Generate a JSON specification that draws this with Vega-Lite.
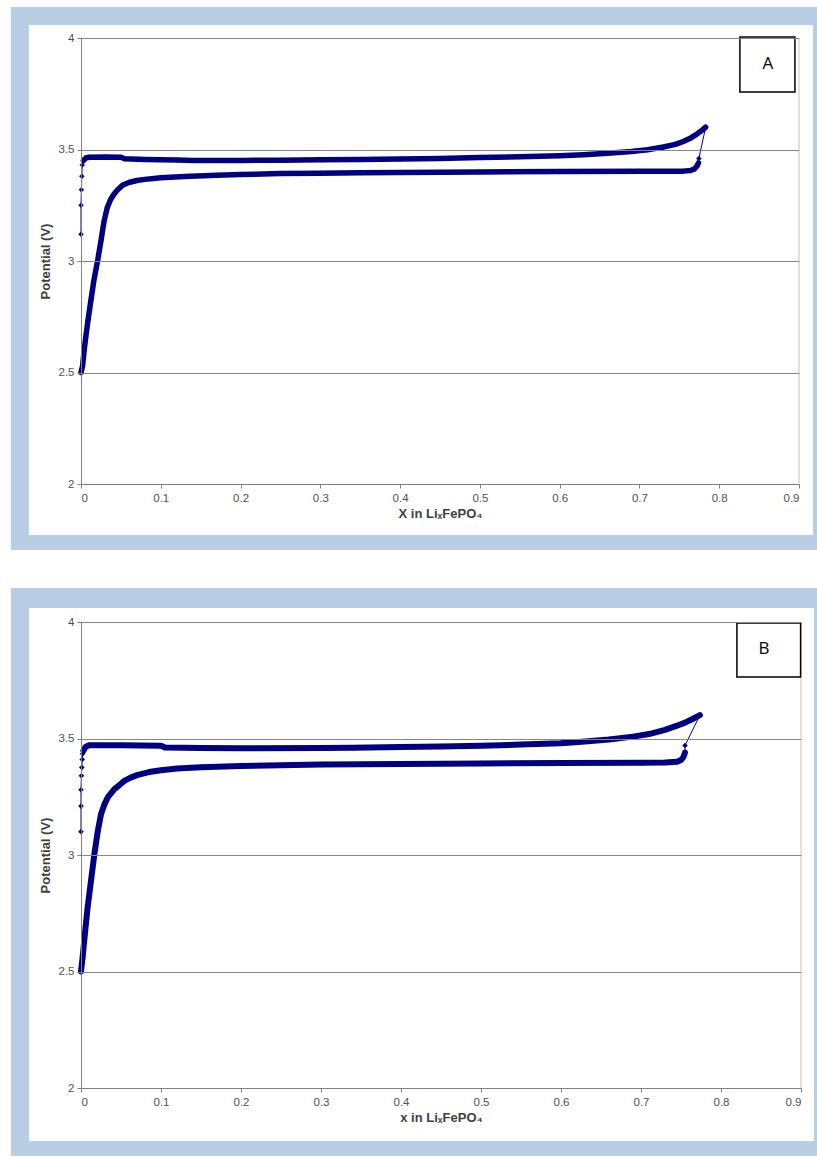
{
  "$schema": "https://vega.github.io/schema/vega-lite/v6.json",
  "background": "white",
  "padding": {"left": 10, "top": 7, "right": 0, "bottom": 2},
  "spacing": 37,
  "config": {
    "view": {"stroke": null},
    "font": "Liberation Sans",
    "axis": {
      "labelFont": "Liberation Sans",
      "labelFontSize": 11.5,
      "labelColor": "#505050",
      "titleFont": "Liberation Sans",
      "titleFontSize": 13,
      "titleFontWeight": "bold",
      "titleColor": "#404040",
      "domainColor": "#808080",
      "tickColor": "#808080",
      "tickSize": 4,
      "gridColor": "#868686",
      "gridWidth": 1
    },
    "axisX": {"grid": false, "labelPadding": 4, "titlePadding": 4},
    "axisY": {"grid": true, "labelPadding": 3, "titlePadding": 6}
  },
  "datasets": {
    "curves": [
      {"p":"A","k":"c","x":0,"v":3.12},
      {"p":"A","k":"c","x":0,"v":3.25},
      {"p":"A","k":"c","x":0.0005,"v":3.32},
      {"p":"A","k":"c","x":0.001,"v":3.38},
      {"p":"A","k":"c","x":0.0015,"v":3.43},
      {"p":"A","k":"c","x":0.003,"v":3.45},
      {"p":"A","k":"c","x":0.006,"v":3.462},
      {"p":"A","k":"c","x":0.01,"v":3.465},
      {"p":"A","k":"c","x":0.03,"v":3.466},
      {"p":"A","k":"c","x":0.05,"v":3.465},
      {"p":"A","k":"c","x":0.055,"v":3.458},
      {"p":"A","k":"c","x":0.08,"v":3.455},
      {"p":"A","k":"c","x":0.12,"v":3.453},
      {"p":"A","k":"c","x":0.14,"v":3.451},
      {"p":"A","k":"c","x":0.2,"v":3.451},
      {"p":"A","k":"c","x":0.25,"v":3.452},
      {"p":"A","k":"c","x":0.3,"v":3.454},
      {"p":"A","k":"c","x":0.35,"v":3.455},
      {"p":"A","k":"c","x":0.4,"v":3.457},
      {"p":"A","k":"c","x":0.45,"v":3.46},
      {"p":"A","k":"c","x":0.5,"v":3.464},
      {"p":"A","k":"c","x":0.55,"v":3.467},
      {"p":"A","k":"c","x":0.6,"v":3.472},
      {"p":"A","k":"c","x":0.63,"v":3.477},
      {"p":"A","k":"c","x":0.66,"v":3.483},
      {"p":"A","k":"c","x":0.69,"v":3.491},
      {"p":"A","k":"c","x":0.71,"v":3.499},
      {"p":"A","k":"c","x":0.73,"v":3.511},
      {"p":"A","k":"c","x":0.745,"v":3.523},
      {"p":"A","k":"c","x":0.755,"v":3.536},
      {"p":"A","k":"c","x":0.765,"v":3.553},
      {"p":"A","k":"c","x":0.772,"v":3.569},
      {"p":"A","k":"c","x":0.778,"v":3.585},
      {"p":"A","k":"c","x":0.783,"v":3.6},
      {"p":"A","k":"d","x":0.7745,"v":3.46},
      {"p":"A","k":"d","x":0.774,"v":3.44},
      {"p":"A","k":"d","x":0.772,"v":3.425},
      {"p":"A","k":"d","x":0.769,"v":3.413},
      {"p":"A","k":"d","x":0.764,"v":3.406},
      {"p":"A","k":"d","x":0.755,"v":3.403},
      {"p":"A","k":"d","x":0.7,"v":3.402},
      {"p":"A","k":"d","x":0.6,"v":3.401},
      {"p":"A","k":"d","x":0.5,"v":3.399},
      {"p":"A","k":"d","x":0.45,"v":3.398},
      {"p":"A","k":"d","x":0.4,"v":3.397},
      {"p":"A","k":"d","x":0.35,"v":3.396},
      {"p":"A","k":"d","x":0.3,"v":3.394},
      {"p":"A","k":"d","x":0.25,"v":3.392},
      {"p":"A","k":"d","x":0.2,"v":3.388},
      {"p":"A","k":"d","x":0.17,"v":3.385},
      {"p":"A","k":"d","x":0.13,"v":3.379},
      {"p":"A","k":"d","x":0.1,"v":3.373},
      {"p":"A","k":"d","x":0.08,"v":3.366},
      {"p":"A","k":"d","x":0.07,"v":3.361},
      {"p":"A","k":"d","x":0.06,"v":3.352},
      {"p":"A","k":"d","x":0.052,"v":3.34},
      {"p":"A","k":"d","x":0.046,"v":3.32},
      {"p":"A","k":"d","x":0.041,"v":3.298},
      {"p":"A","k":"d","x":0.037,"v":3.275},
      {"p":"A","k":"d","x":0.033,"v":3.24},
      {"p":"A","k":"d","x":0.029,"v":3.18},
      {"p":"A","k":"d","x":0.025,"v":3.09},
      {"p":"A","k":"d","x":0.021,"v":3.005},
      {"p":"A","k":"d","x":0.016,"v":2.91},
      {"p":"A","k":"d","x":0.0125,"v":2.825},
      {"p":"A","k":"d","x":0.009,"v":2.74},
      {"p":"A","k":"d","x":0.006,"v":2.66},
      {"p":"A","k":"d","x":0.004,"v":2.6},
      {"p":"A","k":"d","x":0.002,"v":2.53},
      {"p":"A","k":"d","x":0,"v":2.5},
      {"p":"B","k":"c","x":0,"v":3.1},
      {"p":"B","k":"c","x":0,"v":3.21},
      {"p":"B","k":"c","x":0,"v":3.28},
      {"p":"B","k":"c","x":0.0005,"v":3.34},
      {"p":"B","k":"c","x":0.001,"v":3.376},
      {"p":"B","k":"c","x":0.0015,"v":3.41},
      {"p":"B","k":"c","x":0.002,"v":3.435},
      {"p":"B","k":"c","x":0.003,"v":3.448},
      {"p":"B","k":"c","x":0.006,"v":3.465},
      {"p":"B","k":"c","x":0.01,"v":3.471},
      {"p":"B","k":"c","x":0.05,"v":3.471},
      {"p":"B","k":"c","x":0.1,"v":3.469},
      {"p":"B","k":"c","x":0.105,"v":3.461},
      {"p":"B","k":"c","x":0.15,"v":3.459},
      {"p":"B","k":"c","x":0.2,"v":3.458},
      {"p":"B","k":"c","x":0.3,"v":3.459},
      {"p":"B","k":"c","x":0.34,"v":3.46},
      {"p":"B","k":"c","x":0.4,"v":3.463},
      {"p":"B","k":"c","x":0.45,"v":3.466},
      {"p":"B","k":"c","x":0.5,"v":3.469},
      {"p":"B","k":"c","x":0.55,"v":3.474},
      {"p":"B","k":"c","x":0.6,"v":3.48},
      {"p":"B","k":"c","x":0.63,"v":3.487},
      {"p":"B","k":"c","x":0.66,"v":3.496},
      {"p":"B","k":"c","x":0.69,"v":3.508},
      {"p":"B","k":"c","x":0.71,"v":3.519},
      {"p":"B","k":"c","x":0.73,"v":3.537},
      {"p":"B","k":"c","x":0.745,"v":3.555},
      {"p":"B","k":"c","x":0.755,"v":3.568},
      {"p":"B","k":"c","x":0.765,"v":3.585},
      {"p":"B","k":"c","x":0.7736,"v":3.6},
      {"p":"B","k":"d","x":0.755,"v":3.47},
      {"p":"B","k":"d","x":0.755,"v":3.44},
      {"p":"B","k":"d","x":0.753,"v":3.42},
      {"p":"B","k":"d","x":0.75,"v":3.408},
      {"p":"B","k":"d","x":0.745,"v":3.4},
      {"p":"B","k":"d","x":0.73,"v":3.397},
      {"p":"B","k":"d","x":0.7,"v":3.396},
      {"p":"B","k":"d","x":0.6,"v":3.395},
      {"p":"B","k":"d","x":0.5,"v":3.393},
      {"p":"B","k":"d","x":0.4,"v":3.391},
      {"p":"B","k":"d","x":0.3,"v":3.388},
      {"p":"B","k":"d","x":0.25,"v":3.385},
      {"p":"B","k":"d","x":0.2,"v":3.382},
      {"p":"B","k":"d","x":0.15,"v":3.377},
      {"p":"B","k":"d","x":0.12,"v":3.371},
      {"p":"B","k":"d","x":0.1,"v":3.364},
      {"p":"B","k":"d","x":0.085,"v":3.356},
      {"p":"B","k":"d","x":0.071,"v":3.344},
      {"p":"B","k":"d","x":0.062,"v":3.332},
      {"p":"B","k":"d","x":0.054,"v":3.318},
      {"p":"B","k":"d","x":0.048,"v":3.3},
      {"p":"B","k":"d","x":0.0417,"v":3.283},
      {"p":"B","k":"d","x":0.0334,"v":3.247},
      {"p":"B","k":"d","x":0.029,"v":3.215},
      {"p":"B","k":"d","x":0.025,"v":3.175},
      {"p":"B","k":"d","x":0.021,"v":3.103},
      {"p":"B","k":"d","x":0.0167,"v":3.003},
      {"p":"B","k":"d","x":0.0125,"v":2.89},
      {"p":"B","k":"d","x":0.0083,"v":2.775},
      {"p":"B","k":"d","x":0.006,"v":2.7},
      {"p":"B","k":"d","x":0.004,"v":2.63},
      {"p":"B","k":"d","x":0.002,"v":2.56},
      {"p":"B","k":"d","x":0,"v":2.5}
    ]
  },
  "vconcat": [
    {
      "width": 718,
      "height": 446,
      "layer": [
        {
          "data": {"values": [{}]},
          "mark": {"type": "rect", "fill": "#b9cde5", "clip": false},
          "encoding": {
            "x": {"datum": -0.0879, "type": "quantitative", "scale": {"domain": [0, 0.9], "nice": false, "zero": false},
                  "axis": {"title": "X in LiₓFePO₄", "zindex": 1, "values": [0,0.1,0.2,0.3,0.4,0.5,0.6,0.7,0.8,0.9], "format": "~g"}},
            "x2": {"datum": 0.925},
            "y": {"datum": 4.139, "type": "quantitative", "scale": {"domain": [2, 4], "nice": false, "zero": false},
                  "axis": {"title": "Potential (V)", "zindex": 1, "values": [2,2.5,3,3.5,4], "format": "~g"}},
            "y2": {"datum": 1.704}
          }
        },
        {
          "data": {"values": [{}]},
          "mark": {"type": "rect", "fill": "white", "clip": false},
          "encoding": {
            "x": {"datum": -0.0653, "type": "quantitative"},
            "x2": {"datum": 0.9175},
            "y": {"datum": 4.058, "type": "quantitative"},
            "y2": {"datum": 1.771}
          }
        },
        {
          "data": {"values": [{}]},
          "mark": {"type": "rule", "color": "#c4c4c4", "strokeWidth": 1},
          "encoding": {
            "x": {"datum": 0.9, "type": "quantitative"},
            "y": {"datum": 2, "type": "quantitative"},
            "y2": {"datum": 4}
          }
        },
        {
          "data": {"name": "curves"},
          "transform": [{"filter": "datum.p == 'A'"}],
          "mark": {"type": "line", "color": "#000080", "strokeWidth": 1},
          "encoding": {
            "x": {"field": "x", "type": "quantitative"},
            "y": {"field": "v", "type": "quantitative"},
            "order": {"value": null}
          }
        },
        {
          "data": {"name": "curves"},
          "transform": [
            {"filter": "datum.p == 'A'"},
            {"filter": "(datum.k == 'c' && datum.v >= 3.44) || (datum.k == 'd' && datum.v <= 3.45)"}
          ],
          "mark": {"type": "line", "color": "#000080", "strokeWidth": 5.5, "strokeCap": "round", "strokeJoin": "round"},
          "encoding": {
            "x": {"field": "x", "type": "quantitative"},
            "y": {"field": "v", "type": "quantitative"},
            "detail": {"field": "k"},
            "order": {"value": null}
          }
        },
        {
          "data": {"name": "curves"},
          "transform": [{"filter": "datum.p == 'A'"}],
          "mark": {"type": "point", "shape": "diamond", "filled": true, "size": 30, "color": "#000080", "opacity": 1},
          "encoding": {
            "x": {"field": "x", "type": "quantitative"},
            "y": {"field": "v", "type": "quantitative"}
          }
        },
        {
          "data": {"values": [{}]},
          "mark": {"type": "rect", "fill": "white", "stroke": "black", "strokeWidth": 1.5, "clip": false},
          "encoding": {
            "x": {"datum": 0.8259, "type": "quantitative"},
            "x2": {"datum": 0.8949},
            "y": {"datum": 4.0045, "type": "quantitative"},
            "y2": {"datum": 3.7578}
          }
        },
        {
          "data": {"values": [{"label": "A"}]},
          "mark": {"type": "text", "font": "Open Sans", "fontSize": 17, "color": "black", "align": "center", "baseline": "middle"},
          "encoding": {
            "x": {"datum": 0.861, "type": "quantitative"},
            "y": {"datum": 3.884, "type": "quantitative"},
            "text": {"field": "label"}
          }
        }
      ]
    },
    {
      "width": 720,
      "height": 466,
      "layer": [
        {
          "data": {"values": [{}]},
          "mark": {"type": "rect", "fill": "#b9cde5", "clip": false},
          "encoding": {
            "x": {"datum": -0.0875, "type": "quantitative", "scale": {"domain": [0, 0.9], "nice": false, "zero": false},
                  "axis": {"title": "x in LiₓFePO₄", "zindex": 1, "values": [0,0.1,0.2,0.3,0.4,0.5,0.6,0.7,0.8,0.9], "format": "~g"}},
            "x2": {"datum": 0.921},
            "y": {"datum": 4.1459, "type": "quantitative", "scale": {"domain": [2, 4], "nice": false, "zero": false},
                  "axis": {"title": "Potential (V)", "zindex": 1, "values": [2,2.5,3,3.5,4], "format": "~g"}},
            "y2": {"datum": 1.7082}
          }
        },
        {
          "data": {"values": [{}]},
          "mark": {"type": "rect", "fill": "white", "clip": false},
          "encoding": {
            "x": {"datum": -0.065, "type": "quantitative"},
            "x2": {"datum": 0.9163},
            "y": {"datum": 4.0601, "type": "quantitative"},
            "y2": {"datum": 1.7725}
          }
        },
        {
          "data": {"values": [{}]},
          "mark": {"type": "rule", "color": "#c4c4c4", "strokeWidth": 1},
          "encoding": {
            "x": {"datum": 0.9, "type": "quantitative"},
            "y": {"datum": 2, "type": "quantitative"},
            "y2": {"datum": 4}
          }
        },
        {
          "data": {"name": "curves"},
          "transform": [{"filter": "datum.p == 'B'"}],
          "mark": {"type": "line", "color": "#000080", "strokeWidth": 1},
          "encoding": {
            "x": {"field": "x", "type": "quantitative"},
            "y": {"field": "v", "type": "quantitative"},
            "order": {"value": null}
          }
        },
        {
          "data": {"name": "curves"},
          "transform": [
            {"filter": "datum.p == 'B'"},
            {"filter": "(datum.k == 'c' && datum.v >= 3.44) || (datum.k == 'd' && datum.v <= 3.45)"}
          ],
          "mark": {"type": "line", "color": "#000080", "strokeWidth": 6, "strokeCap": "round", "strokeJoin": "round"},
          "encoding": {
            "x": {"field": "x", "type": "quantitative"},
            "y": {"field": "v", "type": "quantitative"},
            "detail": {"field": "k"},
            "order": {"value": null}
          }
        },
        {
          "data": {"name": "curves"},
          "transform": [{"filter": "datum.p == 'B'"}],
          "mark": {"type": "point", "shape": "diamond", "filled": true, "size": 32, "color": "#000080", "opacity": 1},
          "encoding": {
            "x": {"field": "x", "type": "quantitative"},
            "y": {"field": "v", "type": "quantitative"}
          }
        },
        {
          "data": {"values": [{}]},
          "mark": {"type": "rect", "fill": "white", "stroke": "black", "strokeWidth": 1.5, "clip": false},
          "encoding": {
            "x": {"datum": 0.8199, "type": "quantitative"},
            "x2": {"datum": 0.8995},
            "y": {"datum": 3.9957, "type": "quantitative"},
            "y2": {"datum": 3.764}
          }
        },
        {
          "data": {"values": [{"label": "B"}]},
          "mark": {"type": "text", "font": "Open Sans", "fontSize": 17, "color": "black", "align": "center", "baseline": "middle"},
          "encoding": {
            "x": {"datum": 0.8537, "type": "quantitative"},
            "y": {"datum": 3.884, "type": "quantitative"},
            "text": {"field": "label"}
          }
        }
      ]
    }
  ]
}
